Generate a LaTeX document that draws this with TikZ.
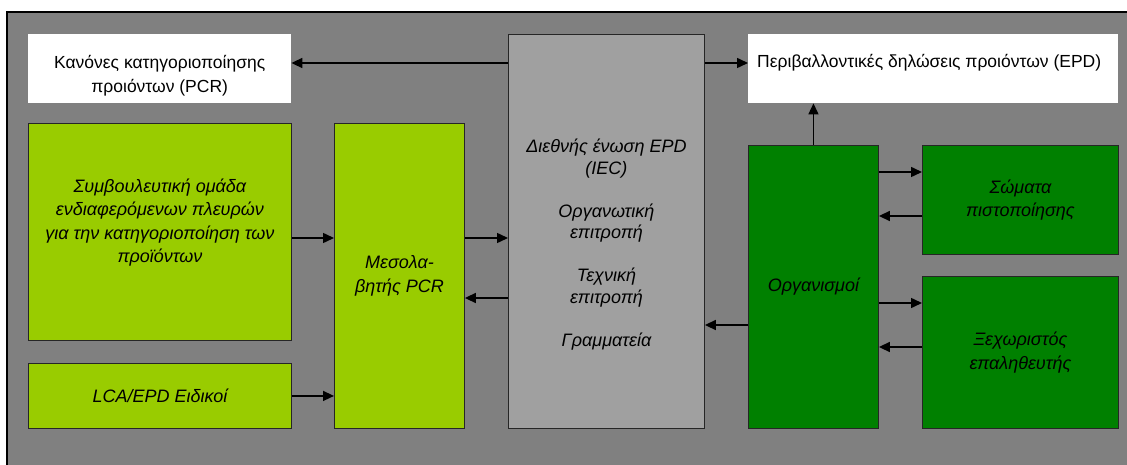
\documentclass[tikz,border=0pt]{standalone}
\usepackage{fontspec}
\setmainfont{Liberation Sans}
\usetikzlibrary{calc}
\usetikzlibrary{positioning}
\usetikzlibrary{arrows.meta}

\definecolor{bggray}{HTML}{808080}
\definecolor{iecgray}{HTML}{A0A0A0}
\definecolor{limegreen}{HTML}{99CC00}
\definecolor{darkgreen}{HTML}{008000}

\tikzset{
    whitebox/.style={rectangle, anchor=north west, fill=white, inner sep=0pt},
    panel/.style={rectangle, anchor=north west, draw=black!85, line width=0.9pt, inner sep=0pt},
    plaintext/.style={align=center, font=\fontsize{17.5}{24}\selectfont},
    boxtext/.style={align=center, font=\itshape\fontsize{18}{23.5}\selectfont},
    flow/.style={-{Triangle[length=11pt, width=10pt]}, line width=1.5pt},
}

\begin{document}
\begin{tikzpicture}[x=1pt, y=-1pt]
    \useasboundingbox (0,0) rectangle (1127,465);
    % slide background
    \fill [bggray] (7,12) rectangle (1130,468);
    \draw [line width=1.6pt] (7,468) -- (7,12) -- (1130,12);

    \node [whitebox, minimum width=263pt, minimum height=69pt] (pcr) at (28,34) {};
    \node [plaintext] (pcr-text) at ($(pcr)+(0,7.5)$) {Κανόνες κατηγοριοποίησης\\προιόντων (PCR)};
    \node [whitebox, minimum width=370pt, minimum height=69pt] (epd) at (748,34) {};
    \node [plaintext] (epd-text) at ($(epd)+(-4,-5.5)$) {Περιβαλλοντικές δηλώσεις προιόντων (EPD)};

    \node [panel, fill=limegreen, minimum width=263pt, minimum height=217pt] (advisory) at (28,123) {};
    \node [boxtext] (advisory-text) at ($(advisory)+(0,-9.5)$) {Συμβουλευτική ομάδα\\ενδιαφερόμενων πλευρών\\για την κατηγοριοποίηση των\\προϊόντων};
    \node [panel, fill=limegreen, minimum width=263pt, minimum height=65pt, boxtext] (lca) at (28,363) {LCA/EPD Ειδικοί};
    \node [panel, fill=limegreen, minimum width=130pt, minimum height=305pt, boxtext] (mediator) at (334,123) {Μεσολα-\\βητής PCR};

    \node [panel, fill=iecgray, minimum width=196pt, minimum height=394pt] (iec) at (508,34) {};
    \node [boxtext, font=\itshape\fontsize{18}{21.5}\selectfont] (iec-text) at ($(iec)+(0,13)$) {Διεθνής ένωση EPD\\(IEC)\\[21.5pt]Οργανωτική\\επιτροπή\\[21.5pt]Τεχνική\\επιτροπή\\[21.5pt]Γραμματεία};

    \node [panel, fill=darkgreen, minimum width=130pt, minimum height=283pt, boxtext] (org) at (748,145) {Οργανισμοί};
    \node [panel, fill=darkgreen, minimum width=196pt, minimum height=109pt, boxtext] (cert) at (922,145) {Σώματα\\πιστοποίησης};
    \node [panel, fill=darkgreen, minimum width=196pt, minimum height=152pt, boxtext] (verifier) at (922,276) {Ξεχωριστός\\επαληθευτής};

    \draw [flow] ([yshift=-29pt]iec.north west) -- ([yshift=-29pt]pcr.north east);
    \draw [flow] ([yshift=-29pt]iec.north east) -- ([yshift=-29pt]epd.north west);
    \draw [flow] (org.north) -- (org.north |- epd.south);
    \draw [flow] ([yshift=-115pt]advisory.north east) -- ([yshift=-115pt]mediator.north west);
    \draw [flow] ([yshift=-115pt]mediator.north east) -- ([yshift=-204pt]iec.north west);
    \draw [flow] ([yshift=-264pt]iec.north west) -- ([yshift=-175pt]mediator.north east);
    \draw [flow] (lca.east) -- (mediator.west |- lca.east);
    \draw [flow] ([yshift=-27pt]org.north east) -- ([yshift=-27pt]cert.north west);
    \draw [flow] ([yshift=-71pt]cert.north west) -- ([yshift=-71pt]org.north east);
    \draw [flow] ([yshift=-158pt]org.north east) -- ([yshift=-27pt]verifier.north west);
    \draw [flow] ([yshift=-71pt]verifier.north west) -- ([yshift=-202pt]org.north east);
    \draw [flow] ([yshift=-180pt]org.north west) -- ([yshift=-291pt]iec.north east);
\end{tikzpicture}
\end{document}
